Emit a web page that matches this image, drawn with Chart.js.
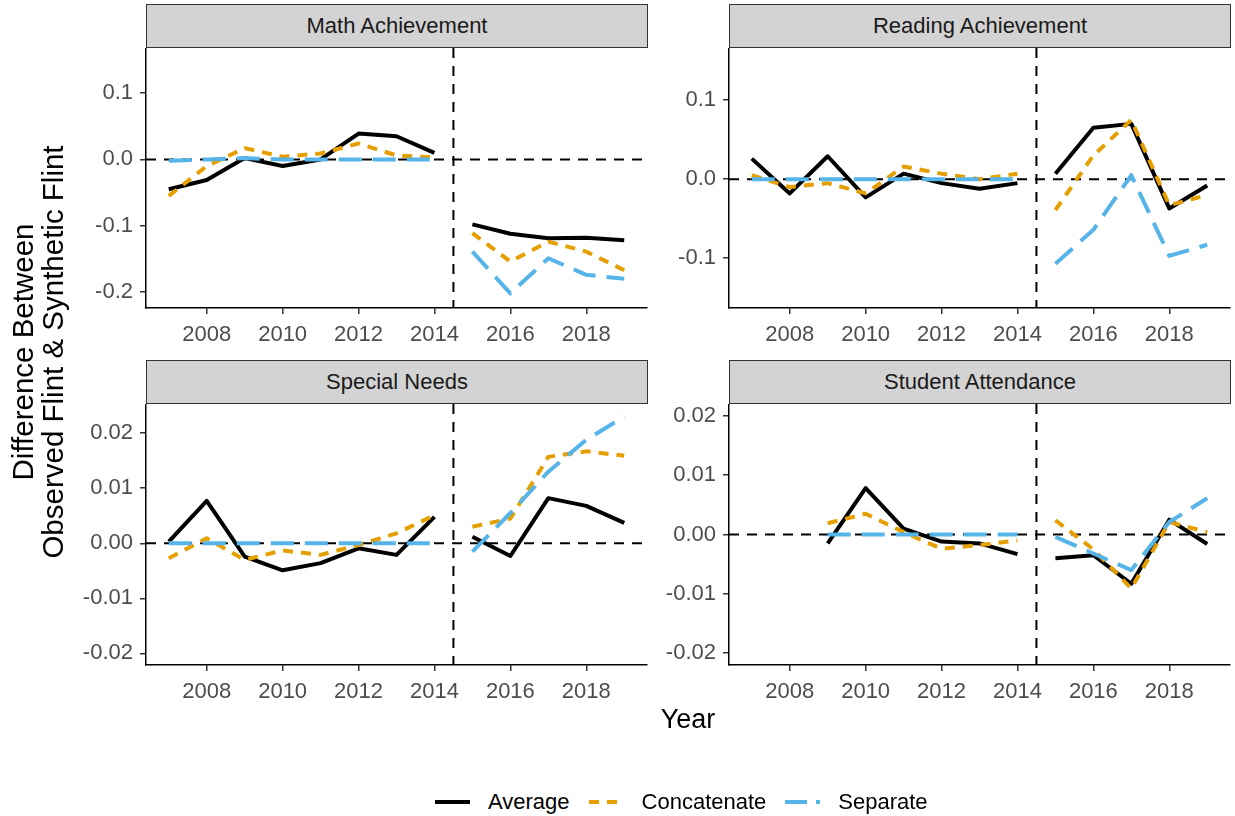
<!DOCTYPE html>
<html>
<head>
<meta charset="utf-8">
<script src="https://cdn.jsdelivr.net/npm/chart.js@4.4.1/dist/chart.umd.min.js"></script>
<style>
  body { margin: 0; background: #fff; font-family: "Liberation Sans", Arial, sans-serif; }
  #page { position: relative; width: 1235px; height: 816px; overflow: hidden; }
  canvas { position: absolute; }
  .strip {
    position: absolute; box-sizing: border-box; height: 44px;
    background: #d3d3d3; border: 1px solid #333;
    font-size: 22px; color: #1a1a1a; text-align: center; line-height: 42px;
  }
  #ytitle {
    position: absolute; left: 38px; top: 352px; width: 500px;
    transform: translate(-50%, -50%) rotate(-90deg);
    text-align: center; font-size: 29.5px; line-height: 30px; color: #000;
  }
  #xtitle {
    position: absolute; left: 688px; top: 719px; transform: translate(-50%, -50%);
    font-size: 27px; color: #000;
  }
  #legend {
    position: absolute; left: 435px; top: 802px; transform: translateY(-50%);
    display: flex; align-items: center; font-size: 22px; color: #000;
  }
  #legend svg { margin-right: 18px; }
  #legend span { margin-right: 19px; }
</style>
</head>
<body>
<div id="page">
  <div class="strip" style="left:146px; top:4px; width:502px;">Math Achievement</div>
  <div class="strip" style="left:729px; top:4px; width:502px;">Reading Achievement</div>
  <div class="strip" style="left:146px; top:360px; width:502px;">Special Needs</div>
  <div class="strip" style="left:729px; top:360px; width:502px;">Student Attendance</div>

  <canvas id="math" width="588" height="312" style="left:60px; top:48px;"></canvas>
  <canvas id="reading" width="588" height="312" style="left:643px; top:48px;"></canvas>
  <canvas id="special" width="588" height="313" style="left:60px; top:404px;"></canvas>
  <canvas id="attendance" width="588" height="313" style="left:643px; top:404px;"></canvas>

  <div id="ytitle">Difference Between<br>Observed Flint &amp; Synthetic Flint</div>
  <div id="xtitle">Year</div>

  <div id="legend">
    <svg width="35" height="10"><line x1="0" y1="5" x2="35" y2="5" stroke="#000" stroke-width="4"/></svg>
    <span>Average</span>
    <svg width="35" height="10"><line x1="0" y1="5" x2="35" y2="5" stroke="#E69F00" stroke-width="4" stroke-dasharray="10 8"/></svg>
    <span>Concatenate</span>
    <svg width="35" height="10"><line x1="0" y1="5" x2="35" y2="5" stroke="#56B4E9" stroke-width="4" stroke-dasharray="22 9"/></svg>
    <span>Separate</span>
  </div>
</div>

<script>
// years and the year the lead crisis split the series
const years = [2007, 2008, 2009, 2010, 2011, 2012, 2013, 2014, 2015, 2016, 2017, 2018, 2019];
const cutYear = 2014.5;
const xTicks = [2008, 2010, 2012, 2014, 2016, 2018];

const mathAverage     = [-0.045, -0.031, 0.002, -0.010, 0.000, 0.039, 0.035, 0.010, -0.098, -0.112, -0.119, -0.118, -0.122];
const mathConcatenate = [-0.055, -0.010, 0.017, 0.004, 0.009, 0.024, 0.006, 0.003, -0.111, -0.154, -0.124, -0.139, -0.167];
const mathSeparate    = [-0.002, 0.000, 0.002, 0.000, 0.000, 0.000, 0.000, 0.000, -0.139, -0.202, -0.149, -0.174, -0.180];
const mathTicks = [-0.2, -0.1, 0.0, 0.1];

const readingAverage     = [0.026, -0.018, 0.029, -0.023, 0.007, -0.005, -0.012, -0.005, 0.007, 0.065, 0.070, -0.037, -0.008];
const readingConcatenate = [0.005, -0.010, -0.005, -0.018, 0.016, 0.007, 0.000, 0.007, -0.039, 0.030, 0.075, -0.033, -0.020];
const readingSeparate    = [0.000, 0.000, 0.000, 0.000, 0.000, 0.000, 0.000, 0.000, -0.107, -0.064, 0.005, -0.097, -0.083];
const readingTicks = [-0.1, 0.0, 0.1];

const specialAverage     = [0.0003, 0.0077, -0.0024, -0.0049, -0.0036, -0.0009, -0.0021, 0.0048, 0.0012, -0.0023, 0.0082, 0.0068, 0.0037];
const specialConcatenate = [-0.0027, 0.0009, -0.0030, -0.0013, -0.0021, -0.0003, 0.0018, 0.0051, 0.0030, 0.0045, 0.0157, 0.0167, 0.0159];
const specialSeparate    = [0, 0, 0, 0, 0, 0, 0, 0, -0.0015, 0.0055, 0.0130, 0.0188, 0.0230];
const specialTicks = [-0.02, -0.01, 0.00, 0.01, 0.02];

const attendanceAverage     = [null, null, -0.0015, 0.0078, 0.0010, -0.0012, -0.0015, -0.0033, -0.0040, -0.0035, -0.0083, 0.0025, -0.0016];
const attendanceConcatenate = [null, null, 0.0019, 0.0035, 0.0004, -0.0024, -0.0018, -0.0010, 0.0024, -0.0025, -0.0091, 0.0021, 0.0004];
const attendanceSeparate    = [null, null, 0, 0, 0, 0, 0, 0, -0.0004, -0.0032, -0.0060, 0.0021, 0.0061];
const attendanceTicks = [-0.02, -0.01, 0.00, 0.01, 0.02];

Chart.defaults.font.family = '"Liberation Sans", Arial, sans-serif';
Chart.defaults.animation = false;

// dashed zero line and the vertical cut line, under the data
const refLines = {
  id: 'refLines',
  beforeDatasetsDraw(chart) {
    const { ctx, chartArea, scales } = chart;
    const y0 = scales.y.getPixelForValue(0);
    const xc = scales.x.getPixelForValue(cutYear);
    ctx.save();
    ctx.strokeStyle = '#000';
    ctx.lineWidth = 2;
    ctx.setLineDash([10, 8]);
    ctx.beginPath();
    ctx.moveTo(chartArea.left, y0);
    ctx.lineTo(chartArea.right, y0);
    ctx.stroke();
    ctx.beginPath();
    ctx.moveTo(xc, chartArea.top);
    ctx.lineTo(xc, chartArea.bottom);
    ctx.stroke();
    ctx.restore();
  }
};

// points with a gap at the cut so pre and post are separate lines
let toPoints = (vals) => {
  let pts = [];
  years.forEach((yr, i) => {
    if (yr > cutYear && years[i - 1] < cutYear) pts.push({ x: cutYear, y: null });
    pts.push({ x: yr, y: vals[i] });
  });
  return pts;
};

let makePanel = (id, avg, conc, sep, yMin, yMax, yTicks, decimals) => {
  const line = { borderWidth: 4, pointRadius: 0, tension: 0, spanGaps: false, fill: false,
                 borderJoinStyle: 'round', borderCapStyle: 'butt' };
  return new Chart(document.getElementById(id), {
    type: 'line',
    data: {
      datasets: [
        { ...line, label: 'Average', data: toPoints(avg), borderColor: '#000000', order: 3 },
        { ...line, label: 'Concatenate', data: toPoints(conc), borderColor: '#E69F00', borderDash: [10, 8], order: 2 },
        { ...line, label: 'Separate', data: toPoints(sep), borderColor: '#56B4E9', borderDash: [23, 11], order: 1 }
      ]
    },
    options: {
      responsive: false,
      layout: { padding: { left: 0, right: 1, top: 0, bottom: 0 } },
      plugins: { legend: { display: false }, tooltip: { enabled: false } },
      scales: {
        x: {
          type: 'linear', min: 2006.4, max: 2019.6,
          afterBuildTicks: s => { s.ticks = xTicks.map(v => ({ value: v })); },
          afterFit: s => { s.height = 52; s.paddingLeft = 0; s.paddingRight = 0; },
          border: { display: true, color: '#000', width: 1.5 },
          grid: { display: true, drawOnChartArea: false, drawTicks: true, tickLength: 6, color: '#333', lineWidth: 1.5 },
          ticks: { color: '#4d4d4d', font: { size: 22 }, padding: 8, maxRotation: 0, callback: v => String(v) }
        },
        y: {
          min: yMin, max: yMax,
          afterBuildTicks: s => { s.ticks = yTicks.map(v => ({ value: v })); },
          afterFit: s => { s.width = 86; s.paddingTop = 0; s.paddingBottom = 0; },
          border: { display: true, color: '#000', width: 1.5 },
          grid: { display: true, drawOnChartArea: false, drawTicks: true, tickLength: 6, color: '#333', lineWidth: 1.5 },
          ticks: { color: '#4d4d4d', font: { size: 22 }, padding: 7, callback: v => v.toFixed(decimals) }
        }
      }
    },
    plugins: [refLines]
  });
};

makePanel('math', mathAverage, mathConcatenate, mathSeparate, -0.224, 0.168, mathTicks, 1);
makePanel('reading', readingAverage, readingConcatenate, readingSeparate, -0.163, 0.166, readingTicks, 1);
makePanel('special', specialAverage, specialConcatenate, specialSeparate, -0.0221, 0.0253, specialTicks, 2);
makePanel('attendance', attendanceAverage, attendanceConcatenate, attendanceSeparate, -0.022, 0.022, attendanceTicks, 2);
</script>
</body>
</html>
